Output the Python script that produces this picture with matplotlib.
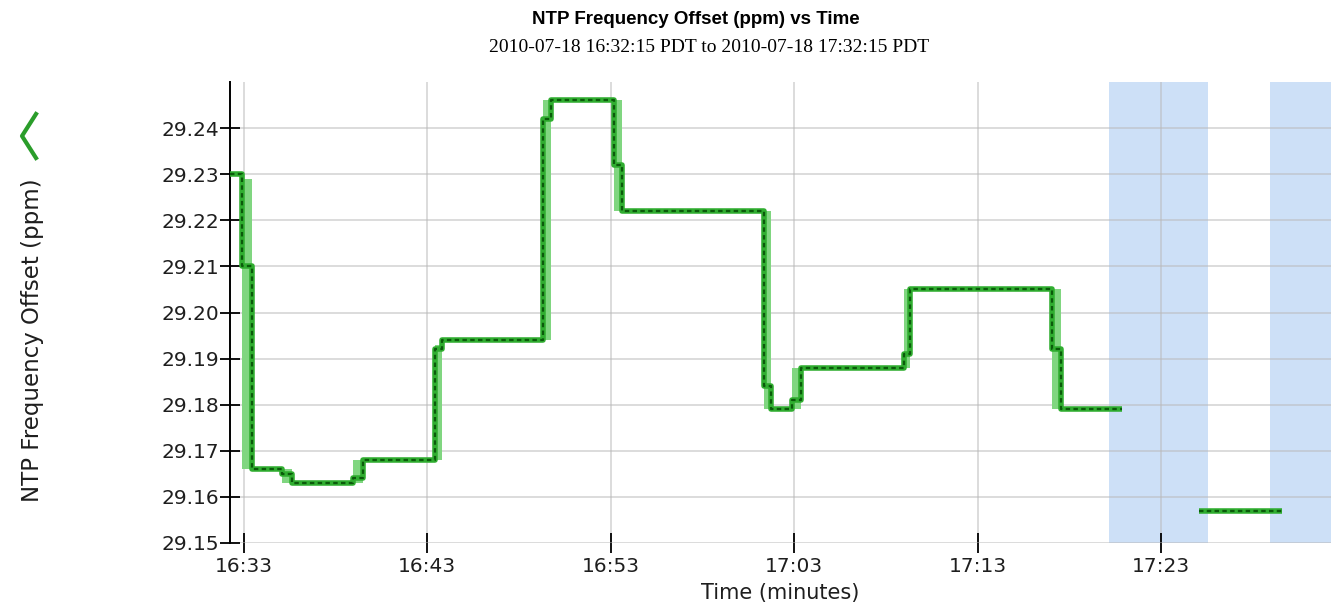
import numpy as np
import matplotlib
matplotlib.use("Agg")
import matplotlib.pyplot as plt
from matplotlib.lines import Line2D

# ---- data (minutes since 16:32:15 PDT) ----
minutes = [0.0, 0.66, 1.20, 2.83, 3.38, 6.73, 7.27, 11.15, 11.53, 17.05, 17.50,
           20.95, 21.35, 29.10, 29.46, 30.64, 31.09, 36.71, 37.07, 44.77, 45.26,
           48.58, 48.60, 52.79, 57.33]
offset = [29.230, 29.210, 29.166, 29.165, 29.163, 29.164, 29.168, 29.192, 29.194,
          29.242, 29.246, 29.232, 29.222, 29.184, 29.179, 29.181, 29.188, 29.191,
          29.205, 29.192, 29.179, 29.179, np.nan, 29.157, 29.157]
offset_min = [29.230, 29.166, 29.166, 29.163, 29.163, 29.163, 29.168, 29.168, 29.194,
              29.194, 29.246, 29.222, 29.222, 29.179, 29.179, 29.179, 29.188, 29.188,
              29.205, 29.179, 29.179, 29.179, np.nan, 29.157, 29.157]
offset_max = [29.230, 29.229, 29.166, 29.166, 29.163, 29.168, 29.168, 29.193, 29.194,
              29.246, 29.246, 29.246, 29.222, 29.222, 29.179, 29.188, 29.188, 29.205,
              29.205, 29.205, 29.179, 29.179, np.nan, 29.157, 29.157]
# periods with no data (shaded)
gap_start = [47.9, 56.7]
gap_end = [53.3, 60.0]

x_ticks = [0.75, 10.75, 20.75, 30.75, 40.75, 50.75]
x_labels = ["16:33", "16:43", "16:53", "17:03", "17:13", "17:23"]
y_ticks = [29.15, 29.16, 29.17, 29.18, 29.19, 29.20, 29.21, 29.22, 29.23, 29.24]
y_labels = ["29.15", "29.16", "29.17", "29.18", "29.19", "29.20", "29.21", "29.22",
            "29.23", "29.24"]

W, H = 1339, 605
fig = plt.figure(figsize=(W / 100, H / 100), dpi=100)
ax = fig.add_axes([230 / W, 1 - 543 / H, (1331 - 230) / W, (543 - 82) / H])

ax.set_xlim(0, 60)
ax.set_ylim(29.15, 29.25)

for s, e in zip(gap_start, gap_end):
    ax.axvspan(s, e, color="#cde0f7", lw=0, zorder=0)

ax.set_xticks(x_ticks)
ax.set_xticklabels(x_labels)
ax.set_yticks(y_ticks)
ax.set_yticklabels(y_labels)
ax.grid(True, color="#b9b9b9", lw=1.3, alpha=0.55, zorder=1)
ax.set_axisbelow(True)

ax.fill_between(minutes, offset_min, offset_max, step="post", color="#80d680",
                lw=0, zorder=2)
ax.step(minutes, offset, where="post", color="#30ad30", lw=4.0, zorder=3,
        solid_capstyle="butt")
ax.step(minutes, offset, where="post", color="#0b5a0b", lw=1.6, zorder=4,
        linestyle=(0, (2, 1.5)))

for side in ("top", "right", "bottom"):
    ax.spines[side].set_visible(False)
ax.spines["left"].set_color("black")
ax.spines["left"].set_linewidth(1.4)

ax.tick_params(axis="both", direction="inout", length=14, width=1.3,
               colors="black", labelsize=14.5, labelcolor="#1e1e1e")
ax.tick_params(axis="y", pad=1)
ax.tick_params(axis="x", pad=3)

ax.set_xlabel("Time (minutes)", fontsize=15, color="#1e1e1e", labelpad=5)

fig.text(33 / W, 1 - 340 / H, "NTP Frequency Offset (ppm)", rotation=90,
         ha="center", va="center", fontsize=16.5, color="#1e1e1e")
# legend icon
icon = Line2D([36 / W, 22 / W, 36 / W], [1 - 114 / H, 1 - 136 / H, 1 - 158 / H],
              transform=fig.transFigure, color="#2a9d2a", lw=3)
fig.add_artist(icon)

fig.text(696 / W, 1 - 20 / H, "NTP Frequency Offset (ppm) vs Time",
         ha="center", va="center", fontsize=13.5, fontweight="bold",
         family="Liberation Sans")
fig.text(709 / W, 1 - 47 / H, "2010-07-18 16:32:15 PDT to 2010-07-18 17:32:15 PDT",
         ha="center", va="center", fontsize=14, family="Liberation Serif")

fig.savefig("out.png", dpi=100)
